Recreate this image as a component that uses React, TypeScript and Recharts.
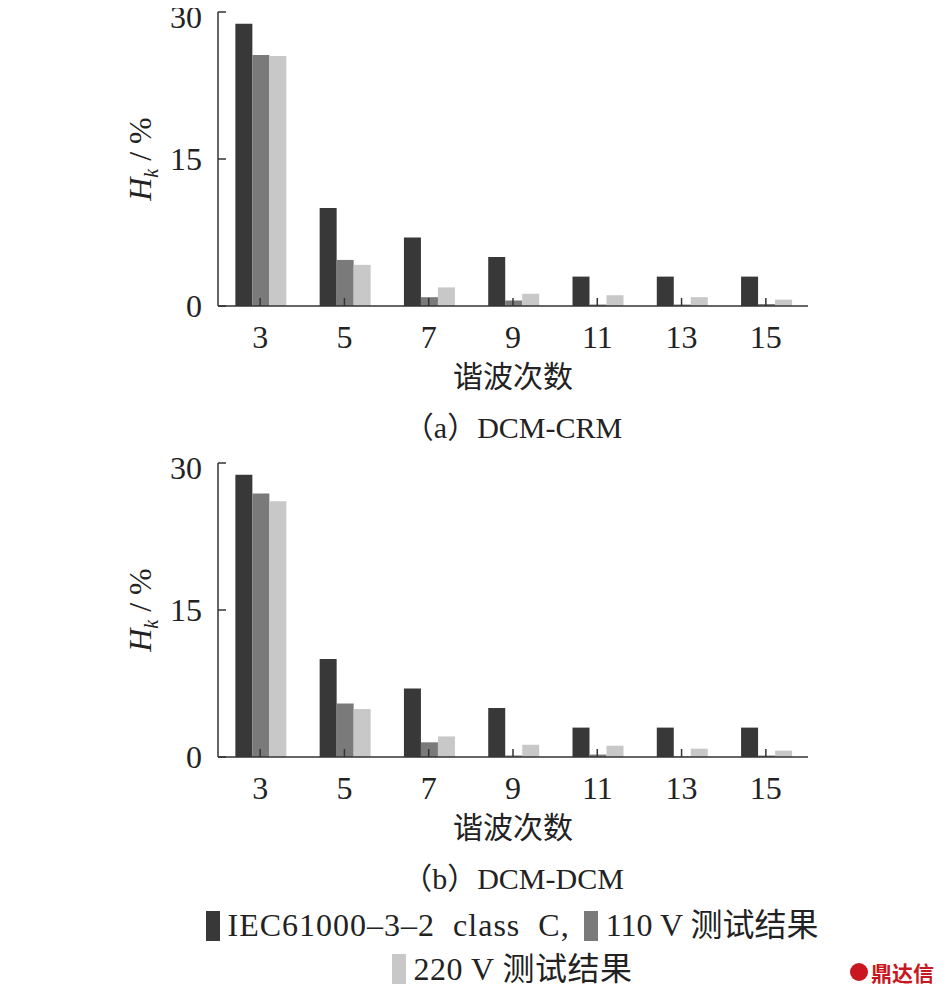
import React from "react";
import { Bar, BarChart, Label, XAxis, YAxis } from "recharts";

// harmonic orders on the x axis
const harmonics = ["3", "5", "7", "9", "11", "13", "15"];
const yTicks = [0, 15, 30];

// IEC 61000-3-2 class C limits (same in both panels)
const iecLimit = [28.8, 10, 7, 5, 3, 3, 3];

// (a) DCM-CRM measured results
const crm110 = [25.6, 4.7, 0.9, 0.55, 0.15, 0.15, 0.2];
const crm220 = [25.5, 4.2, 1.9, 1.25, 1.1, 0.9, 0.65];

// (b) DCM-DCM measured results
const dcm110 = [26.9, 5.45, 1.5, 0.15, 0.25, 0.05, 0.15];
const dcm220 = [26.1, 4.9, 2.1, 1.25, 1.15, 0.85, 0.65];

const SERIF = '"Liberation Serif", "Noto Sans CJK SC", serif';
const AXIS = "#333333";
const DARK = "#383838";
const MID = "#7a7a7a";
const LIGHT = "#c8c8c8";

const buildRows = (v110: number[], v220: number[]) =>
  harmonics.map((h, i) => ({ h, iec: iecLimit[i], v110: v110[i], v220: v220[i] }));

function YTick({ x, y, payload }: any) {
  // top label sits on the page edge; nudge it down so it is not clipped
  const ty = payload.value === 30 ? y + 5 : y;
  return (
    <g>
      <line x1={x} x2={x + 8} y1={y} y2={y} stroke={AXIS} strokeWidth={1.5} />
      <text x={x - 16} y={ty} dy="0.35em" textAnchor="end" fontSize={32} fontFamily={SERIF} fill="#222">
        {payload.value}
      </text>
    </g>
  );
}

function XTick({ x, y, payload }: any) {
  return (
    <g>
      <line x1={x} x2={x} y1={y} y2={y - 8} stroke={AXIS} strokeWidth={1.5} />
      <text x={x} y={y + 31} dy="0.35em" textAnchor="middle" fontSize={32} fontFamily={SERIF} fill="#222">
        {payload.value}
      </text>
    </g>
  );
}

function YTitle({ viewBox }: any) {
  const cx = 132;
  const cy = viewBox.y + viewBox.height / 2;
  return (
    <text
      x={cx}
      y={cy}
      transform={`rotate(-90 ${cx} ${cy})`}
      textAnchor="middle"
      dy="0.35em"
      fontSize={32}
      fontFamily={SERIF}
      fill="#222"
    >
      <tspan fontStyle="italic">H</tspan>
      <tspan fontStyle="italic" fontSize={20} dy={7}>k</tspan>
      <tspan dy={-7}> / %</tspan>
    </text>
  );
}

function Panel({ rows, top }: { rows: any[]; top: number }) {
  return (
    <div style={{ position: "absolute", left: 0, top }}>
      <BarChart
        width={930}
        height={390}
        data={rows}
        margin={{ top: 30, right: 130, bottom: 0, left: 0 }}
        barCategoryGap="20.6%"
        barGap={0}
      >
        <XAxis
          dataKey="h"
          height={66}
          tickSize={0}
          tickMargin={0}
          tick={<XTick />}
          axisLine={{ stroke: AXIS, strokeWidth: 1.5 }}
          interval={0}
        />
        <YAxis
          width={210}
          domain={[0, 30]}
          ticks={yTicks}
          tickSize={0}
          tickMargin={0}
          tick={<YTick />}
          axisLine={{ stroke: AXIS, strokeWidth: 1.5 }}
        >
          <Label content={<YTitle />} />
        </YAxis>
        <Bar dataKey="iec" fill={DARK} isAnimationActive={false} />
        <Bar dataKey="v110" fill={MID} isAnimationActive={false} />
        <Bar dataKey="v220" fill={LIGHT} isAnimationActive={false} />
      </BarChart>
    </div>
  );
}

function Caption({ text, center, size = 30 }: { text: string; center: number; size?: number }) {
  return (
    <div
      style={{
        position: "absolute",
        left: 0,
        width: 1010,
        top: center - 20,
        lineHeight: "40px",
        textAlign: "center",
        fontSize: size,
        fontFamily: SERIF,
        color: "#222",
      }}
    >
      {text}
    </div>
  );
}

function LegendItem({ color, text, spacing = 0 }: { color: string; text: string; spacing?: number }) {
  return (
    <span style={{ display: "inline-flex", alignItems: "center", margin: "0 7px" }}>
      <span style={{ display: "inline-block", width: 14, height: 30, background: color, marginRight: 8 }} />
      <span style={{ letterSpacing: spacing }}>{text}</span>
    </span>
  );
}

export default function App() {
  return (
    <div style={{ position: "relative", width: 930, height: 978 }}>
      <Panel rows={buildRows(crm110, crm220)} top={-26} />
      <Caption text="谐波次数" center={369} />
      <Caption text="（a）DCM-CRM" center={420} />

      <Panel rows={buildRows(dcm110, dcm220)} top={425} />
      <Caption text="谐波次数" center={820} />
      <Caption text="（b）DCM-DCM" center={871} />

      <div
        style={{
          position: "absolute",
          left: 0,
          width: 1008,
          top: 898,
          textAlign: "center",
          fontSize: 32,
          lineHeight: "39px",
          fontFamily: SERIF,
          color: "#222",
          whiteSpace: "nowrap",
        }}
      >
        <div>
          <LegendItem color={DARK} text={"IEC61000–3–2\u00a0\u00a0class\u00a0\u00a0C,"} spacing={1} />
          <LegendItem color={MID} text="110 V 测试结果" />
        </div>
        <div>
          <LegendItem color={LIGHT} text="220 V 测试结果" spacing={0.5} />
        </div>
      </div>

      <div
        style={{
          position: "absolute",
          left: 842,
          top: 950,
          display: "flex",
          alignItems: "center",
          whiteSpace: "nowrap",
          color: "#c8171e",
          fontFamily: '"Noto Sans CJK SC", sans-serif',
          fontWeight: 700,
          fontSize: 21,
          lineHeight: "28px",
        }}
      >
        <span
          style={{
            display: "inline-block",
            width: 18,
            height: 18,
            borderRadius: 9,
            background: "#c8171e",
            marginRight: 3,
          }}
        />
        鼎达信
      </div>
    </div>
  );
}
